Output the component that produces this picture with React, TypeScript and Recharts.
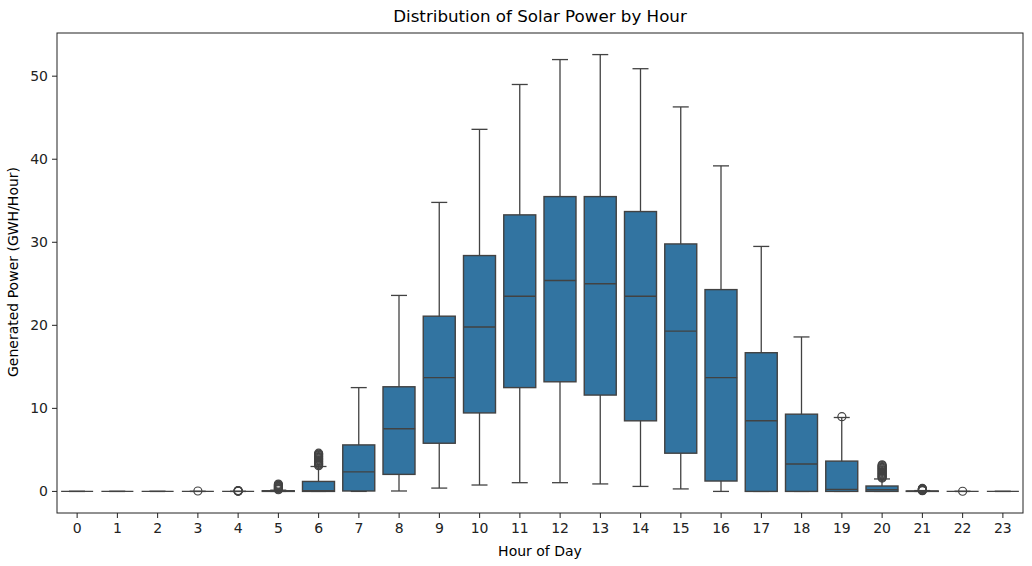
import { ComposedChart, Bar, Scatter, XAxis, YAxis } from "recharts";

// hourly solar output, GWH/Hour
const hours = [0, 1, 2, 3, 4, 5, 6, 7, 8, 9, 10, 11, 12, 13, 14, 15, 16, 17, 18, 19, 20, 21, 22, 23];
const whiskerLow = [0, 0, 0, 0, 0, 0, 0, 0, 0.05, 0.4, 0.77, 1.05, 1.05, 0.9, 0.6, 0.3, 0, 0, 0, 0, 0, 0, 0, 0];
const q1 = [0, 0, 0, 0, 0, 0, 0, 0.05, 2.05, 5.8, 9.45, 12.5, 13.2, 11.6, 8.5, 4.6, 1.25, 0, 0, 0, 0, 0, 0, 0];
const median = [0, 0, 0, 0, 0, 0.02, 0.1, 2.35, 7.55, 13.7, 19.8, 23.5, 25.4, 25.0, 23.5, 19.3, 13.7, 8.5, 3.3, 0.25, 0.2, 0.02, 0, 0];
const q3 = [0, 0, 0, 0, 0, 0.08, 1.2, 5.6, 12.6, 21.1, 28.4, 33.3, 35.5, 35.5, 33.7, 29.8, 24.3, 16.7, 9.3, 3.65, 0.65, 0.05, 0, 0];
const whiskerHigh = [0, 0, 0, 0, 0, 0.15, 3.0, 12.5, 23.6, 34.8, 43.6, 49.0, 52.0, 52.6, 50.9, 46.3, 39.2, 29.5, 18.6, 8.9, 1.5, 0.1, 0, 0];
const outliers: number[][] = [
  [], [], [], [0.05], [0.02, 0.04, 0.06, 0.08, 0.1],
  [0.2, 0.28, 0.35, 0.42, 0.5, 0.57, 0.64, 0.72, 0.8, 0.88],
  [3.1, 3.2, 3.3, 3.4, 3.5, 3.6, 3.7, 3.8, 3.9, 4.0, 4.1, 4.2, 4.3, 4.4, 4.5, 4.6],
  [], [], [], [], [], [], [], [], [], [], [], [],
  [9.0],
  [1.6, 1.7, 1.8, 1.9, 2.0, 2.1, 2.2, 2.3, 2.4, 2.5, 2.6, 2.7, 2.8, 2.9, 3.0, 3.1, 3.2],
  [0.08, 0.12, 0.16, 0.2, 0.24, 0.28, 0.32, 0.36],
  [0.02],
  [],
];
const yTicks = [0, 10, 20, 30, 40, 50];

const data = hours.map((h, i) => ({
  hour: h,
  lo: whiskerLow[i],
  q1: q1[i],
  med: median[i],
  q3: q3[i],
  hi: whiskerHigh[i],
}));

const outlierPoints = hours.flatMap((h, i) => outliers[i].map((v) => ({ hour: h, value: v })));

const BOX_FILL = "#3274a1";
const EDGE = "#424242";
const BOX_W = 32;
const FONT = "DejaVu Sans, sans-serif";

function WhiskerShape(props: any) {
  const { x, y, width, height } = props;
  const top = Math.min(y, y + height);
  const bottom = Math.max(y, y + height);
  const cx = x + width / 2;
  const cap = width / 4;
  return (
    <g stroke={EDGE} strokeWidth={1.3}>
      <line x1={cx} x2={cx} y1={top} y2={bottom} />
      <line x1={cx - cap} x2={cx + cap} y1={top} y2={top} />
      <line x1={cx - cap} x2={cx + cap} y1={bottom} y2={bottom} />
    </g>
  );
}

function BoxShape(props: any) {
  const { x, y, width, height } = props;
  const top = Math.min(y, y + height);
  return (
    <rect
      x={x}
      y={top}
      width={width}
      height={Math.abs(height)}
      fill={BOX_FILL}
      stroke={EDGE}
      strokeWidth={1.4}
    />
  );
}

function MedianShape(props: any) {
  const { cx, cy } = props;
  return <line x1={cx - BOX_W / 2} x2={cx + BOX_W / 2} y1={cy} y2={cy} stroke={EDGE} strokeWidth={1.4} />;
}

function FlierShape(props: any) {
  const { cx, cy } = props;
  return <circle cx={cx} cy={cy} r={4} fill="none" stroke={EDGE} strokeWidth={1.2} />;
}

const tickStyle = { fontSize: 14, fill: "#222", fontFamily: FONT };

export default function App() {
  return (
    <div style={{ position: "absolute", left: 0, top: 0, width: 1032, height: 566, background: "#fff" }}>
      <ComposedChart
        width={1032}
        height={566}
        data={data}
        margin={{ top: 33, right: 9, left: 0, bottom: 0 }}
      >
        <XAxis
          xAxisId="a_main"
          dataKey="hour"
          interval={0}
          height={53}
          tick={tickStyle}
          tickSize={5}
          tickMargin={5}
          tickLine={{ stroke: "#222" }}
          axisLine={false}
        />
        <XAxis xAxisId="b_box" dataKey="hour" height={0} hide />
        <XAxis
          xAxisId="c_num"
          type="number"
          dataKey="hour"
          domain={[-0.5, 23.5]}
          allowDataOverflow
          height={0}
          hide
        />
        <YAxis
          type="number"
          width={57}
          domain={[-2.6, 55.2]}
          ticks={yTicks}
          allowDataOverflow
          tick={tickStyle}
          tickSize={5}
          tickMargin={4}
          tickLine={{ stroke: "#222" }}
          axisLine={false}
        />
        <Bar
          xAxisId="a_main"
          dataKey={(d: any) => [d.lo, d.hi]}
          barSize={BOX_W}
          shape={WhiskerShape}
          isAnimationActive={false}
        />
        <Bar
          xAxisId="b_box"
          dataKey={(d: any) => [d.q1, d.q3]}
          barSize={BOX_W}
          shape={BoxShape}
          isAnimationActive={false}
        />
        <Scatter
          xAxisId="c_num"
          data={data}
          dataKey="med"
          shape={MedianShape}
          isAnimationActive={false}
        />
        <Scatter
          xAxisId="c_num"
          data={outlierPoints}
          dataKey="value"
          shape={FlierShape}
          isAnimationActive={false}
        />
      </ComposedChart>
      <svg
        width={1032}
        height={566}
        style={{ position: "absolute", left: 0, top: 0, pointerEvents: "none" }}
      >
        <rect x={57} y={33} width={966} height={480} fill="none" stroke="#222" strokeWidth={1} />
        <text x={540} y={22} textAnchor="middle" fontSize={16.7} fill="#000" fontFamily={FONT}>
          Distribution of Solar Power by Hour
        </text>
        <text x={540} y={556} textAnchor="middle" fontSize={14} fill="#000" fontFamily={FONT}>
          Hour of Day
        </text>
        <text
          x={18}
          y={272}
          textAnchor="middle"
          fontSize={14}
          fill="#000"
          fontFamily={FONT}
          transform="rotate(-90, 18, 272)"
        >
          Generated Power (GWH/Hour)
        </text>
      </svg>
    </div>
  );
}
